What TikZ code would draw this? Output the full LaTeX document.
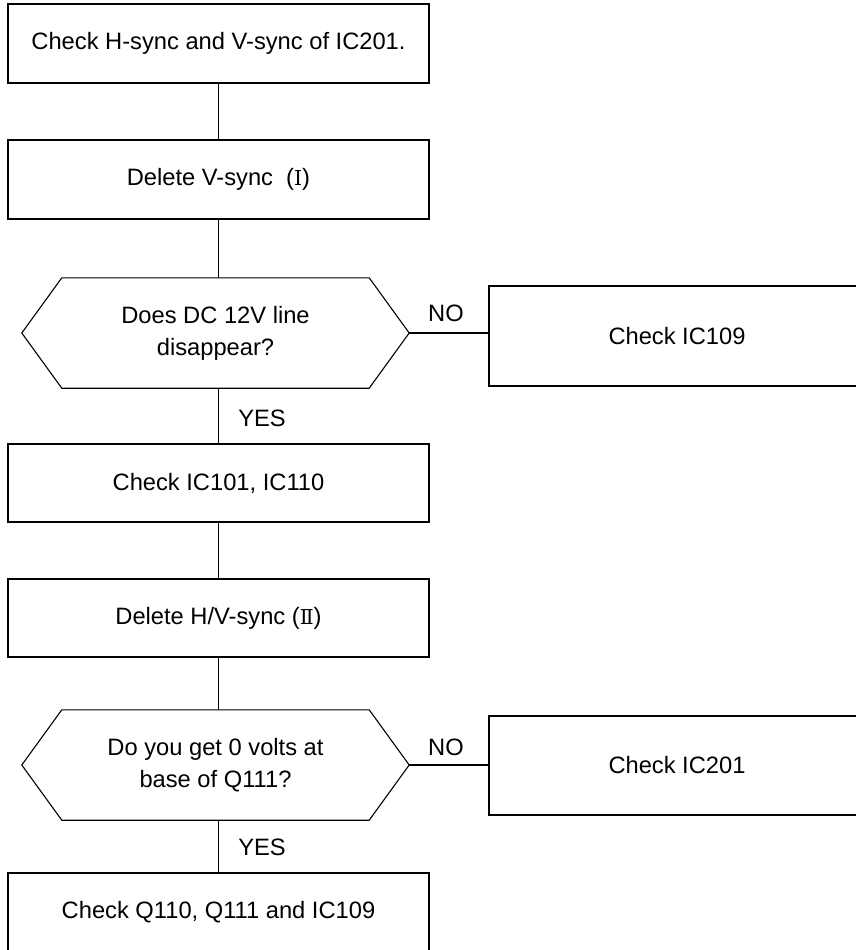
\documentclass[tikz,border=0pt]{standalone}
\usepackage{fontspec}
\setmainfont{Liberation Sans}
\newfontfamily\romfont{DejaVu Serif}
\begin{document}
\begin{tikzpicture}[x=1pt,y=-1pt,
  every node/.style={font=\fontsize{23.7}{32}\selectfont, inner sep=0pt},
  stepbox/.style={draw, line width=1.1pt, rectangle, minimum width=421pt, minimum height=79pt, align=center},
  sidebox/.style={draw, line width=1.1pt, rectangle, minimum width=376pt, minimum height=100pt, align=center},
  hexbox/.style={rectangle, minimum width=387pt, minimum height=110pt, align=center},
  hexline/.style={line width=1.1pt, line join=miter},
  conn/.style={line width=1.1pt}]
\useasboundingbox (0,0) rectangle (856,950);
\fill[white] (0,0) rectangle (856,950);

\node[stepbox] (b1) at (218.5,43.5) {Check H-sync and V-sync of IC201.};
\node[stepbox] (b2) at (218.5,179.5) {Delete V-sync\ \ ({\romfont\fontsize{20.5}{32}\selectfont Ⅰ})};
\node[hexbox] (h1) at (215.5,333) {Does DC 12V line\\disappear?};
\node[sidebox] (b3) at (677,336) {Check IC109};
\node[stepbox, minimum height=78pt] (b4) at (218.5,483) {Check IC101, IC110};
\node[stepbox, minimum height=78pt] (b5) at (218.5,618) {Delete H/V-sync ({\romfont\fontsize{20.5}{32}\selectfont Ⅱ})};
\node[hexbox] (h2) at (215.5,765) {Do you get 0 volts at\\base of Q111?};
\node[sidebox, minimum height=99pt] (b6) at (677,765.5) {Check IC201};
\node[stepbox, minimum height=78pt] (b7) at (218.5,912) {Check Q110, Q111 and IC109};

\foreach \h in {h1,h2}{
  \draw[hexline] (\h.west) -- ([xshift=40pt]\h.north west) -- ([xshift=-40pt]\h.north east)
    -- (\h.east) -- ([xshift=-40pt]\h.south east) -- ([xshift=40pt]\h.south west) -- cycle;
}

\draw[conn] (b1.south) -- (b2.north);
\draw[conn] (b2.south) -- (b2.south |- h1.north);
\draw[conn] (b2.south |- h1.south) -- (b4.north);
\draw[conn] (h1.east) -- (h1.east -| b3.west);
\draw[conn] (b4.south) -- (b5.north);
\draw[conn] (b5.south) -- (b5.south |- h2.north);
\draw[conn] (b5.south |- h2.south) -- (b7.north);
\draw[conn] (h2.east) -- (h2.east -| b6.west);

\node (no1) at (446,313) {NO};
\node (yes1) at (262,418) {YES};
\node (no2) at (446,747) {NO};
\node (yes2) at (262,847) {YES};
\end{tikzpicture}
\end{document}
